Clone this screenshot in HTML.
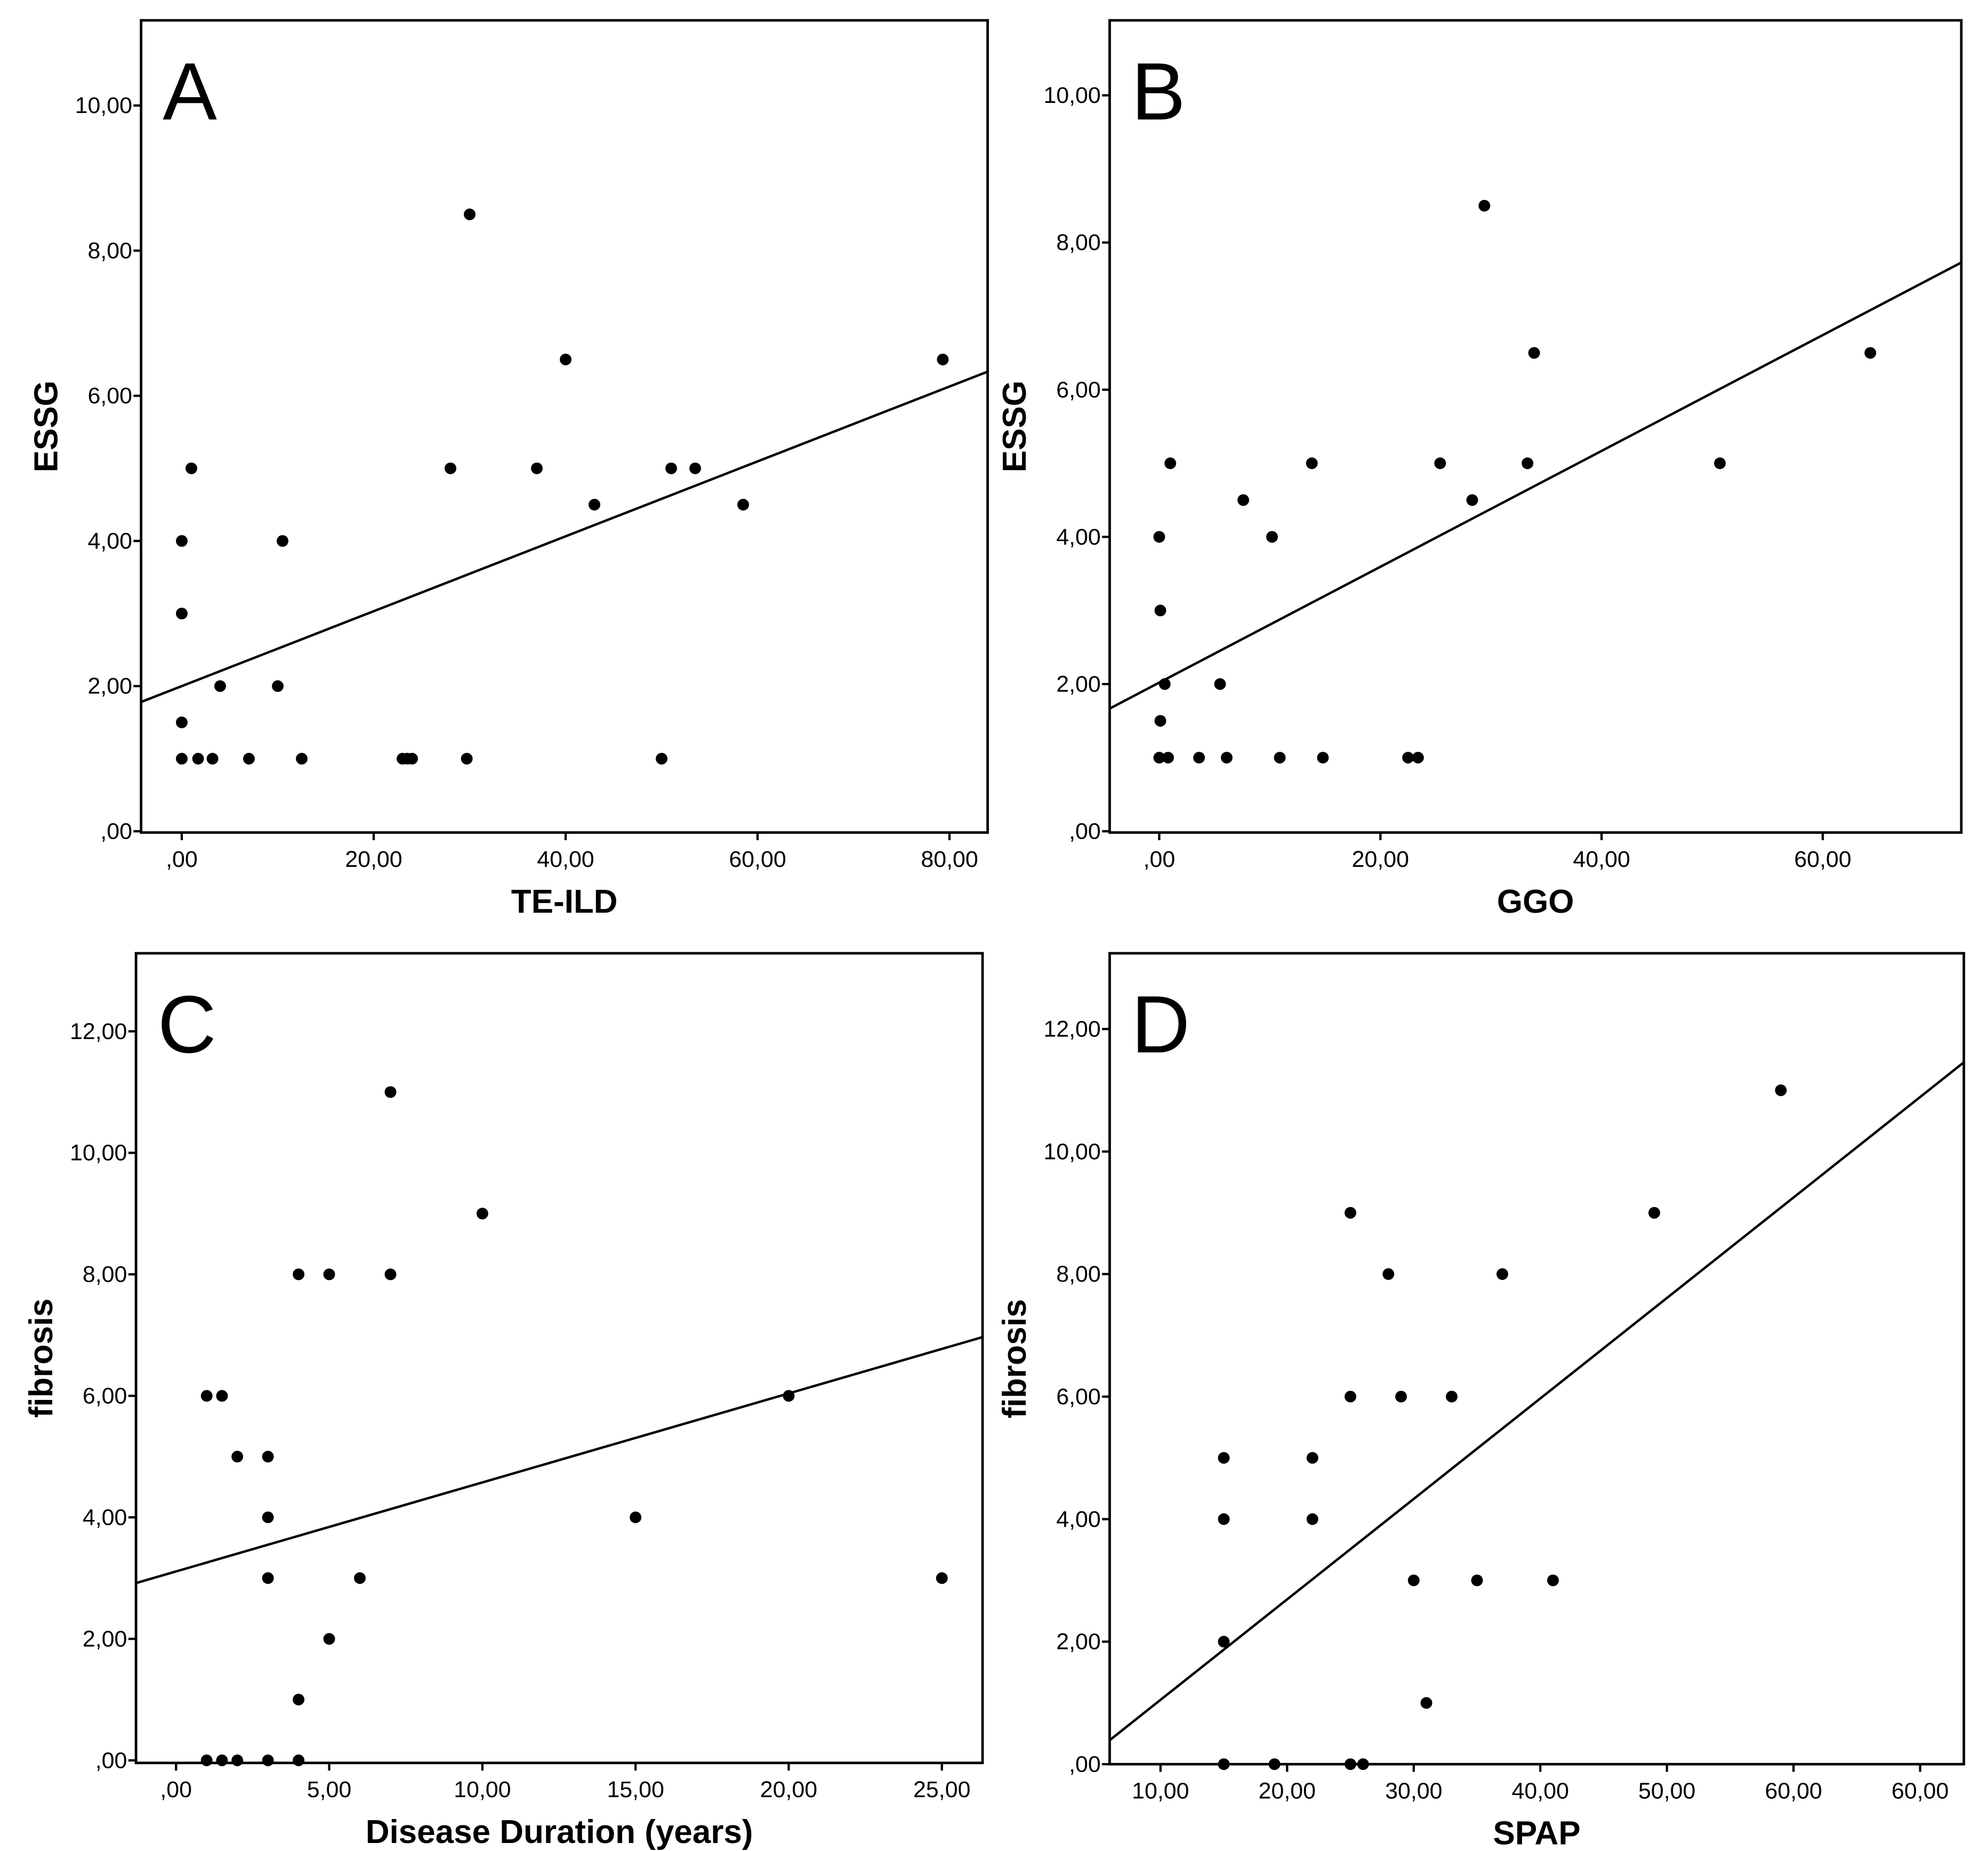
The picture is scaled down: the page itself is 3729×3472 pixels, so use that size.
<!DOCTYPE html>
<html><head><meta charset="utf-8">
<style>
html,body{margin:0;padding:0;background:#fff;}
svg{display:block;}
text{font-family:"Liberation Sans",sans-serif;fill:#000;}
</style></head>
<body>
<svg id="chart" width="3729" height="3472" viewBox="0 0 1564 1456.3" preserveAspectRatio="none" xmlns="http://www.w3.org/2000/svg"></svg>
<script>
// Panel A
const aX = [0,0,0,0,1,1.7,3.2,4,7,10,10.5,12.5,23,23.5,24,28,29.7,30,37,40,43,50,51,53.5,58.5,79.3];
const aY = [1,1.5,3,4,5,1,1,2,1,2,4,1,1,1,1,5,1,8.5,5,6.5,4.5,1,5,5,4.5,6.5];
const aXTicks = [0,20,40,60,80];
const aXLabels = [",00","20,00","40,00","60,00","80,00"];
const aYTicks = [0,2,4,6,8,10];
const aYLabels = [",00","2,00","4,00","6,00","8,00","10,00"];
const aFit = [2.0, 0.0516];
// Panel B
const bX = [0,0.1,0.5,0.1,0,0.8,1,3.6,5.5,6.1,7.6,10.2,10.9,13.8,14.8,22.5,23.4,25.4,28.3,29.4,33.3,33.9,50.7,64.3];
const bY = [4,3,2,1.5,1,1,5,1,2,1,4.5,4,1,5,1,1,1,5,4.5,8.5,5,6.5,5,6.5];
const bXTicks = [0,20,40,60];
const bXLabels = [",00","20,00","40,00","60,00"];
const bYTicks = [0,2,4,6,8,10];
const bYLabels = [",00","2,00","4,00","6,00","8,00","10,00"];
const bFit = [2.02, 0.0787];
// Panel C
const cX = [1,1.5,2,3,3,3,4,5,7,7,10,20,15,25,6,5,4,1,1.5,2,3,4];
const cY = [6,6,5,5,4,3,8,8,11,8,9,6,4,3,3,2,1,0,0,0,0,0];
const cXTicks = [0,5,10,15,20,25];
const cXLabels = [",00","5,00","10,00","15,00","20,00","25,00"];
const cYTicks = [0,2,4,6,8,10,12];
const cYLabels = [",00","2,00","4,00","6,00","8,00","10,00","12,00"];
const cFit = [3.11, 0.1465];
// Panel D
const dX = [15,15,15,15,19,22,22,25,25,25,26,28,29,30,31,33,35,37,41,49,59];
const dY = [5,4,2,0,0,5,4,9,6,0,0,8,6,3,1,6,3,8,3,9,11];
const dXTicks = [10,20,30,40,50,60,70];
const dXLabels = ["10,00","20,00","30,00","40,00","50,00","60,00","60,00"];
const dYTicks = [0,2,4,6,8,10,12];
const dYLabels = [",00","2,00","4,00","6,00","8,00","10,00","12,00"];
const dFit = [-0.59, 0.164];

const NS="http://www.w3.org/2000/svg";
const svg=document.getElementById('chart');
function mk(tag,attrs,parent){const e=document.createElementNS(NS,tag);for(const k in attrs)e.setAttribute(k,attrs[k]);(parent||svg).appendChild(e);return e;}

function panel(p){
  const g=mk('g',{});
  
  
  const sx=v=>p.x0+(v-p.xv0)*p.xs;
  const sy=v=>p.y0-(v-p.yv0)*p.ys;
  const xa=p.L, xb=p.R;
  const va=(xa-p.x0)/p.xs+p.xv0, vb=(xb-p.x0)/p.xs+p.xv0;
  const fl=mk('line',{x1:xa,y1:sy(p.fit[0]+p.fit[1]*va),x2:xb,y2:sy(p.fit[0]+p.fit[1]*vb),stroke:'#000','stroke-width':1.9},g);
  
  
  const bx=mk('rect',{x:p.L,y:p.T,width:p.R-p.L,height:p.B-p.T,fill:'none',stroke:'#000','stroke-width':2},g);
  
  
  p.yt.forEach((v,i)=>{
    const y=sy(v);
    mk('line',{x1:p.L-6,y1:y,x2:p.L,y2:y,stroke:'#000','stroke-width':1.8},g);
    const t=mk('text',{x:p.L-7,y:y+6,'text-anchor':'end','font-size':18},g);
    t.textContent=p.yl[i];
    
    
  });
  p.xt.forEach((v,i)=>{
    const x=sx(v);
    mk('line',{x1:x,y1:p.B,x2:x,y2:p.B+6,stroke:'#000','stroke-width':1.8},g);
    const t=mk('text',{x:x,y:p.B+27,'text-anchor':'middle','font-size':18},g);
    t.textContent=p.xl[i];
    
    
  });
  p.xs_.forEach((v,i)=>{
    const c=mk('circle',{cx:sx(v),cy:sy(p.ys_[i]),r:4.6,fill:'#000'},g);
    
    
  });
  const lt=mk('text',{x:p.L+17,y:p.T+78,'font-size':64},g);
  lt.textContent=p.id;
  
  
  const xt=mk('text',{x:(p.L+p.R)/2,y:p.B+63,'text-anchor':'middle','font-size':26,'font-weight':'bold'},g);
  xt.textContent=p.xtitle;
  
  
  const yc=(p.T+p.B)/2;
  const yt=mk('text',{x:0,y:0,'text-anchor':'middle','font-size':26,'font-weight':'bold',transform:`translate(${p.L-66},${yc}) rotate(-90)`},g);
  yt.textContent=p.ytitle;
  
  
}
panel({id:'A',L:111,R:777,T:16,B:655,x0:143,xv0:0,xs:7.55,y0:654,yv0:0,ys:57.1,fit:aFit,xt:aXTicks,xl:aXLabels,yt:aYTicks,yl:aYLabels,xs_:aX,ys_:aY,xtitle:'TE-ILD',ytitle:'ESSG'});
panel({id:'B',L:873,R:1543,T:16,B:655,x0:912,xv0:0,xs:8.7,y0:654,yv0:0,ys:57.9,fit:bFit,xt:bXTicks,xl:bXLabels,yt:bYTicks,yl:bYLabels,xs_:bX,ys_:bY,xtitle:'GGO',ytitle:'ESSG'});
panel({id:'C',L:107,R:773,T:750,B:1387,x0:138.5,xv0:0,xs:24.1,y0:1385,yv0:0,ys:47.8,fit:cFit,xt:cXTicks,xl:cXLabels,yt:cYTicks,yl:cYLabels,xs_:cX,ys_:cY,xtitle:'Disease Duration (years)',ytitle:'fibrosis'});
panel({id:'D',L:873,R:1545,T:750,B:1388,x0:913,xv0:10,xs:9.96,y0:1388,yv0:0,ys:48.2,fit:dFit,xt:dXTicks,xl:dXLabels,yt:dYTicks,yl:dYLabels,xs_:dX,ys_:dY,xtitle:'SPAP',ytitle:'fibrosis'});
</script>
</body></html>
